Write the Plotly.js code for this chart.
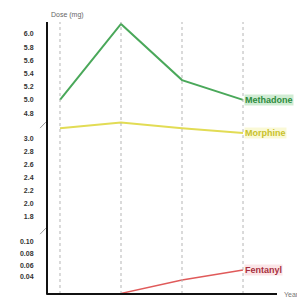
<!DOCTYPE html>
<html><head><meta charset="utf-8">
<script src="https://cdn.plot.ly/plotly-3.0.1.min.js"></script>
<style>html,body{margin:0;padding:0;background:#fff}#c{width:297px;height:298px}</style>
</head><body><div id="c"></div>
<script>
const years = ["2016", "2017", "2018", "2019"];
const methadone = [5.0, 6.15, 5.3, 5.0];
const morphine = [3.15, 3.24, 3.15, 3.08];
const fentanyl = [null, 0.012, 0.035, 0.052];
const topTicks = [4.8, 5.0, 5.2, 5.4, 5.6, 5.8, 6.0];
const midTicks = [1.8, 2.0, 2.2, 2.4, 2.6, 2.8, 3.0];
const lowTicks = [0.04, 0.06, 0.08, 0.10];

const fam = "Liberation Sans, Arial, sans-serif";
const tickFont = {family: fam, size: 7, color: "#333", weight: 700};
function yax(domain, range, vals, dec) {
  return {domain: domain, range: range, tickvals: vals, ticktext: vals.map(v => v.toFixed(dec)),
    showgrid: false, zeroline: false, showline: false, ticks: "outside", ticklen: 11,
    tickcolor: "rgba(0,0,0,0)", tickfont: tickFont, fixedrange: true};
}
const ya1 = yax([0.654, 1], [4.754, 6.18], topTicks, 1);
const ya2 = yax([0.254, 0.643], [1.68, 3.29], midTicks, 1);
const ya3 = yax([0, 0.228], [0.011, 0.117], lowTicks, 2);

const traces = [
  {x: years, y: methadone, yaxis: "y", mode: "lines", line: {color: "#4aa85a", width: 2}, hoverinfo: "none"},
  {x: years, y: morphine, yaxis: "y2", mode: "lines", line: {color: "#e2dc55", width: 2}, hoverinfo: "none"},
  {x: years, y: fentanyl, yaxis: "y3", mode: "lines", line: {color: "#e05a5a", width: 1.5}, hoverinfo: "none"}
];

const shapes = years.map((y, i) => ({type: "line", xref: "x", yref: "paper", x0: i, x1: i, y0: 0, y1: 1,
  line: {color: "#b5b5b5", width: 1, dash: "dot"}, layer: "above"}));
shapes.push({type: "line", xref: "paper", yref: "paper", x0: 0, x1: 0, y0: -0.003, y1: 1, line: {color: "#111", width: 2}});
shapes.push({type: "line", xref: "paper", yref: "paper", x0: 0, x1: 1, y0: 0, y1: 0, line: {color: "#111", width: 2}});
[0.62, 0.23].forEach(yy => shapes.push({type: "line", xref: "paper", yref: "paper",
  x0: -0.03, x1: -0.005, y0: yy - 0.01, y1: yy + 0.012, line: {color: "#999", width: 1}}));

function lbl(text, yv, yref, color, bg) {
  return {xref: "x", yref: yref, x: 3, y: yv, xanchor: "left", yanchor: "middle", xshift: 1, showarrow: false,
    text: text, bgcolor: bg, borderpad: 0, font: {family: fam, size: 9, weight: 700, color: color}};
}
const annotations = [
  {xref: "paper", yref: "paper", x: 0.01, y: 1.005, yanchor: "bottom", xanchor: "left", showarrow: false,
    text: "Dose (mg)", font: {family: fam, size: 7, color: "#666"}},
  {xref: "paper", yref: "paper", x: 1.02, y: 0, yanchor: "middle", xanchor: "left", showarrow: false,
    text: "Year", font: {family: fam, size: 7, color: "#777"}},
  lbl("Methadone", methadone[3], "y", "#2e8b3e", "rgba(120,200,130,0.35)"),
  lbl("Morphine", morphine[3], "y2", "#c9c12a", "rgba(240,235,120,0.3)"),
  lbl("Fentanyl", fentanyl[3], "y3", "#a83040", "rgba(240,150,160,0.25)")
];

const layout = {
  width: 297, height: 298, margin: {l: 47, r: 20, t: 22, b: 4},
  paper_bgcolor: "#fff", plot_bgcolor: "rgba(0,0,0,0)", showlegend: false,
  xaxis: {type: "category", range: [-0.213, 3.557], showticklabels: false, showgrid: false,
    zeroline: false, showline: false, ticks: "", fixedrange: true},
  yaxis: ya1, yaxis2: ya2, yaxis3: ya3,
  shapes: shapes, annotations: annotations
};
Plotly.newPlot("c", traces, layout, {displayModeBar: false, staticPlot: true});
</script></body></html>
